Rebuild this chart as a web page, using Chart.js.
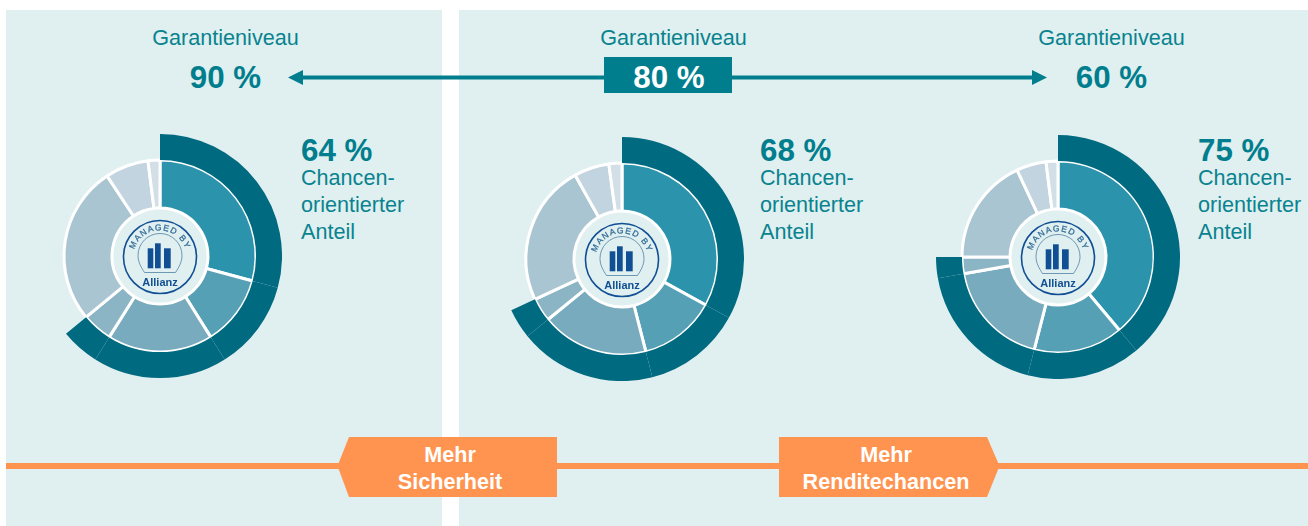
<!DOCTYPE html>
<html lang="de">
<head>
<meta charset="utf-8">
<title>Garantieniveau</title>
<script src="https://cdn.jsdelivr.net/npm/chart.js@4/dist/chart.umd.min.js"></script>
<style>
  html, body { margin: 0; padding: 0; background: #fff; }
  #stage { position: relative; width: 1308px; height: 526px; overflow: hidden; font-family: "Liberation Sans", Arial, sans-serif; }
  #bg, #logos { position: absolute; left: 0; top: 0; }
  #logos { pointer-events: none; }
  canvas { position: absolute; }
  .lbl { fill: #08838f; font-size: 21.600px; }
  .pct { fill: #007e8d; font-size: 31.300px; font-weight: bold; }
  .tag { fill: #fff; font-size: 21.600px; font-weight: bold; text-anchor: middle; }
</style>
</head>
<body>
<div id="stage">
  <svg id="bg" width="1308" height="526" xmlns="http://www.w3.org/2000/svg">
    <rect x="6" y="10" width="436" height="516" fill="#e0eff0"/>
    <rect x="459" y="10" width="849" height="516" fill="#e0eff0"/>

    <!-- arrow between the guarantee levels -->
    <rect x="300" y="75.500" width="735" height="4" fill="#007e8d"/>
    <polygon points="288,77.500 303,70 303,85" fill="#007e8d"/>
    <polygon points="1047,77.500 1032,70 1032,85" fill="#007e8d"/>
    <rect x="604" y="57" width="128" height="36" fill="#007e8d"/>

    <!-- orange scale -->
    <rect x="6" y="463" width="1302" height="6" fill="#ff9450"/>
    <polygon points="337.500,466 349,437 557,437 557,497 349,497" fill="#ff9450"/>
    <polygon points="779,437 987,437 999.500,466 987,497 779,497" fill="#ff9450"/>

    <text class="lbl" x="225.500" y="44.500" text-anchor="middle">Garantieniveau</text>
    <text class="lbl" x="673.500" y="44.500" text-anchor="middle">Garantieniveau</text>
    <text class="lbl" x="1111.500" y="44.500" text-anchor="middle">Garantieniveau</text>
    <text class="pct" x="225.500" y="87.500" text-anchor="middle">90 %</text>
    <text class="pct" x="669" y="87.500" text-anchor="middle" style="fill:#fff">80 %</text>
    <text class="pct" x="1111.500" y="87.500" text-anchor="middle">60 %</text>

    <text class="pct" x="301" y="160.500">64 %</text>
    <text class="lbl" x="301" y="184.500">Chancen-</text>
    <text class="lbl" x="301" y="211.500">orientierter</text>
    <text class="lbl" x="301" y="238.500">Anteil</text>

    <text class="pct" x="760" y="160.500">68 %</text>
    <text class="lbl" x="760" y="184.500">Chancen-</text>
    <text class="lbl" x="760" y="211.500">orientierter</text>
    <text class="lbl" x="760" y="238.500">Anteil</text>

    <text class="pct" x="1198" y="160.500">75 %</text>
    <text class="lbl" x="1198" y="184.500">Chancen-</text>
    <text class="lbl" x="1198" y="211.500">orientierter</text>
    <text class="lbl" x="1198" y="238.500">Anteil</text>

    <text class="tag" x="450" y="461.500">Mehr</text>
    <text class="tag" x="450" y="488.500">Sicherheit</text>
    <text class="tag" x="886" y="461.500">Mehr</text>
    <text class="tag" x="886" y="488.500">Renditechancen</text>
  </svg>

  <canvas id="chart-1" style="left:38px;top:134px"></canvas>
  <canvas id="chart-2" style="left:500px;top:137px"></canvas>
  <canvas id="chart-3" style="left:936px;top:135px"></canvas>

  <svg id="logos" width="1308" height="526" xmlns="http://www.w3.org/2000/svg"></svg>
</div>

<script>
const segments = ["Segment 1", "Segment 2", "Segment 3", "Segment 4", "Segment 5", "Segment 6", "Segment 7"];

// share of each segment in percent
const values90 = [29.2, 11.9, 17.8, 5.1, 26.7, 7.3, 2.0];
const values80 = [33.0, 13.0, 18.1, 4.0, 23.8, 5.9, 2.2];
const values60 = [38.9, 15.1, 18.2, 2.8, 18.0, 5.0, 2.0];

const segmentColors = ["#2c93ac", "#55a0b4", "#78abbd", "#8bb5c5", "#a8c5d1", "#c2d4e0", "#d2dfe7"];
const outerColor = "#006a80";
const chanceSegments = 4; // first four segments form the outer arc

function buildChart(id, values) {
  const el = document.getElementById(id);
  el.width = 244;
  el.height = 244;
  el.style.width = "244px";
  el.style.height = "244px";
  return new Chart(el, {
    type: "doughnut",
    data: {
      labels: segments,
      datasets: [
        {
          data: values,
          weight: 26,
          borderWidth: 0,
          backgroundColor: values.map((v, i) => (i < chanceSegments ? outerColor : "rgba(0,0,0,0)")),
        },
        {
          data: values,
          weight: 48,
          borderWidth: 3,
          borderColor: "#ffffff",
          backgroundColor: segmentColors,
        },
      ],
    },
    options: {
      responsive: false,
      animation: false,
      cutout: 48,
      events: [],
      plugins: { legend: { display: false }, tooltip: { enabled: false } },
    },
  });
}

buildChart("chart-1", values90);
buildChart("chart-2", values80);
buildChart("chart-3", values60);

// Allianz badge in the middle of each ring
function drawBadge(n, cx, cy) {
  const navy = "#104f94";
  const svg = document.getElementById("logos");
  svg.insertAdjacentHTML("beforeend", `
    <g transform="translate(${cx} ${cy})">
      <path id="badge-arc-${n}" d="M -26 6 A 26.700 26.700 0 1 1 26 6" fill="none"/>
      <circle r="36.500" fill="none" stroke="${navy}" stroke-width="1.600"/>
      <path d="M -15.500 15.500 C -19 10 -22 5 -22 -1.500 A 22 22 0 0 1 22 -1.500 C 22 5 19 10 15.500 15.500 Z" fill="none" stroke="#5f8dab" stroke-width="0.900"/>
      <rect x="-12.300" y="-8.700" width="5.600" height="20" fill="${navy}"/>
      <rect x="-5" y="-13.700" width="5.700" height="25" fill="${navy}"/>
      <rect x="4" y="-8.700" width="6.700" height="20" fill="${navy}"/>
      <text font-size="8.500" fill="#2f6a96" stroke="#2f6a96" stroke-width="0.250" letter-spacing="1.200" text-anchor="middle">
        <textPath href="#badge-arc-${n}" startOffset="50%">MANAGED BY</textPath>
      </text>
      <text y="29" font-size="11" font-weight="bold" fill="${navy}" text-anchor="middle">Allianz</text>
    </g>`);
}

drawBadge(1, 160, 257);
drawBadge(2, 622, 260);
drawBadge(3, 1058, 258);
</script>
</body>
</html>
